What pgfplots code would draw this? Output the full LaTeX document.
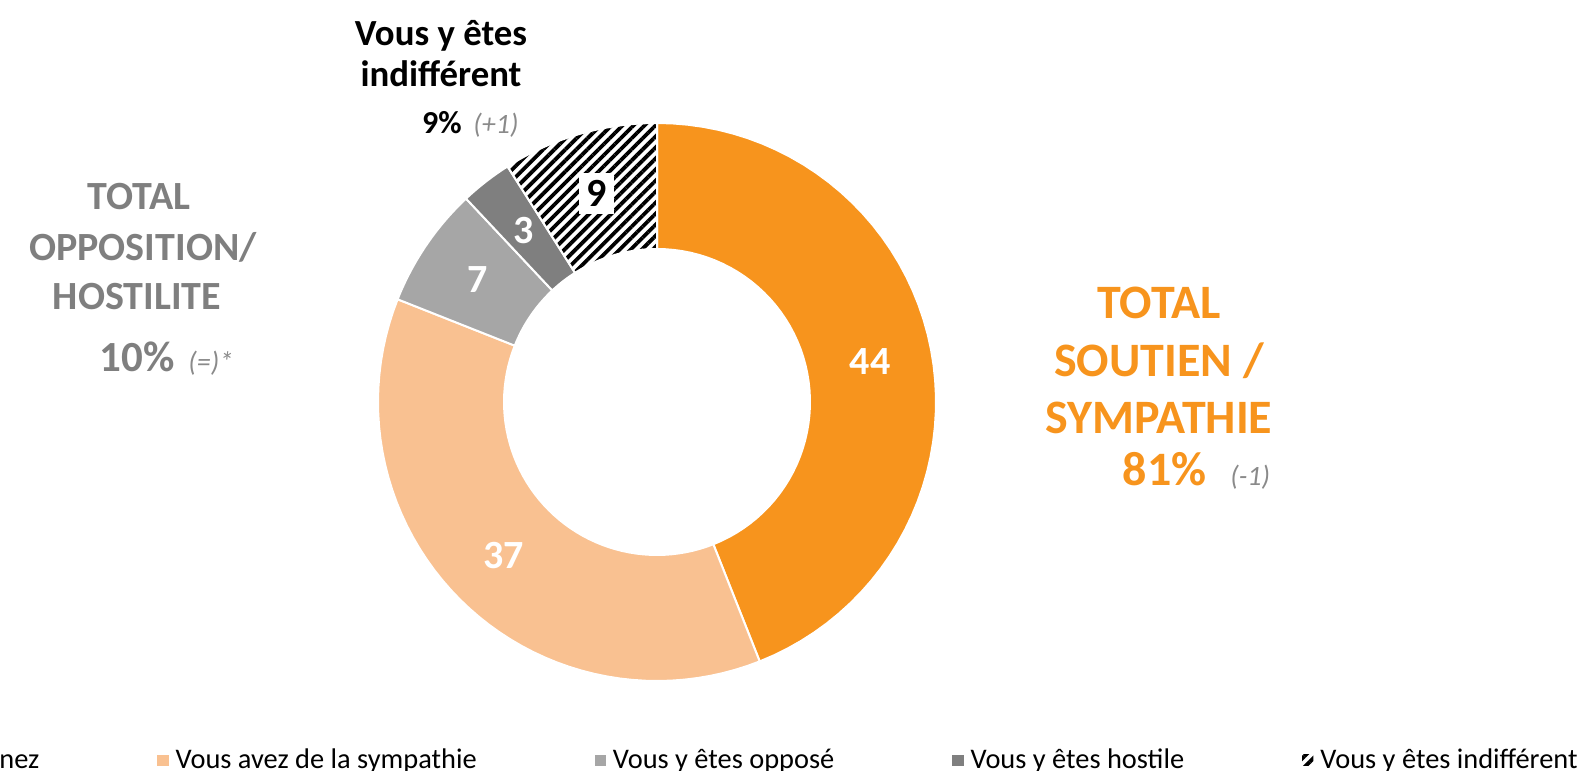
\documentclass[border=0pt]{standalone}
\usepackage{fontspec}
\setmainfont{Carlito}
\usepackage{pgfplots}
\pgfplotsset{compat=1.18}
\usetikzlibrary{patterns.meta}

\definecolor{cSout}{HTML}{F7941D}
\definecolor{cSymp}{HTML}{F9C191}
\definecolor{cOpp}{HTML}{A6A6A6}
\definecolor{cHost}{HTML}{7F7F7F}
\definecolor{cGrayTxt}{HTML}{7F7F7F}
\definecolor{cNote}{HTML}{8A8A8A}

% data (%)
\def\vSout{44}
\def\vSymp{37}
\def\vOpp{7}
\def\vHost{3}
\def\vIndif{9}

% cumulative bounds
\pgfmathsetmacro\cA{0}
\pgfmathsetmacro\cB{\vSout}
\pgfmathsetmacro\cC{\cB+\vSymp}
\pgfmathsetmacro\cD{\cC+\vOpp}
\pgfmathsetmacro\cE{\cD+\vHost}
\pgfmathsetmacro\cF{\cE+\vIndif}

% donut geometry (axis units = pixels)
\def\cx{657}
\def\cy{368}
\def\Ro{279}
\def\Ri{153}
\def\Rl{217}

% ring sector from #2 to #3 (percent), clockwise from the top
\newcommand{\slice}[3]{%
  \addplot[#1, line width=1pt]
    ({\cx+ifthenelse(x<=50,\Ro,\Ri)*cos(90-3.6*(#2+(#3-#2)*min(x,100-x)/50))},
     {\cy+ifthenelse(x<=50,\Ro,\Ri)*sin(90-3.6*(#2+(#3-#2)*min(x,100-x)/50))}) -- cycle;
}
\newcommand{\slicelabel}[4]{%
  \node[#3] at (axis cs:{\cx+\Rl*cos(90-1.8*(#1+#2))},{\cy+\Rl*sin(90-1.8*(#1+#2))}) {#4};
}

\begin{document}
\begin{tikzpicture}
\begin{axis}[
  at={(0,0)}, anchor=south west,
  width=791pt, height=385pt, scale only axis,
  xmin=0, xmax=1582, ymin=0, ymax=770,
  hide axis, clip=false,
  samples at={0,...,50,50.0001,51,52,...,100},
  legend columns=-1,
  legend image code/.code={\fill[#1,draw=none] (0pt,-2.8pt) rectangle (5.6pt,2.8pt);},
  legend style={draw=none, fill=none, inner sep=0pt,
    font=\fontsize{14.2}{17}\selectfont,
    at={(axis cs:1582,-6)}, anchor=south east,
    /tikz/every odd column/.append style={column sep=1.5pt},
    /tikz/every even column/.append style={column sep=57pt}},
]
\slice{fill=cSout, draw=white}{\cA}{\cB}
\addlegendentry{Vous le soutenez}
\slice{fill=cSymp, draw=white}{\cB}{\cC}
\addlegendentry{Vous avez de la sympathie}
\slice{fill=cOpp, draw=white}{\cC}{\cD}
\addlegendentry{Vous y êtes opposé}
\slice{fill=cHost, draw=white}{\cD}{\cE}
\addlegendentry{Vous y êtes hostile}
\slice{pattern={Lines[angle=45,distance=3.9pt,line width=1.9pt]}, pattern color=black, draw=white}{\cE}{\cF}
\addlegendentry{Vous y êtes indifférent}

% slice labels
\slicelabel{\cA}{\cB}{text=white, font=\fontsize{20}{22}\selectfont\bfseries}{44}
\slicelabel{\cB}{\cC}{text=white, font=\fontsize{20}{22}\selectfont\bfseries}{37}
\slicelabel{\cC}{\cD}{text=white, font=\fontsize{20}{22}\selectfont\bfseries}{7}
\slicelabel{\cD}{\cE}{text=white, font=\fontsize{20}{22}\selectfont\bfseries}{3}
\slicelabel{\cE}{\cF}{text=black, fill=white, inner xsep=3.5pt, inner ysep=3.8pt, font=\fontsize{20}{22}\selectfont\bfseries}{9}

% top annotation
\node[anchor=base, font=\fontsize{18.4}{22}\selectfont\bfseries] at (axis cs:441,724) {Vous y êtes};
\node[anchor=base, font=\fontsize{18.4}{22}\selectfont\bfseries] at (axis cs:441,683) {indifférent};
\node[anchor=base east, inner sep=0pt, font=\fontsize{16}{19}\selectfont\bfseries] at (axis cs:462,636) {9\%};
\node[anchor=base west, inner sep=0pt, text=cNote, font=\fontsize{14}{17}\selectfont\itshape] at (axis cs:473,636) {(+1)};

% left annotation
\node[anchor=base, text=cGrayTxt, font=\fontsize{20}{24}\selectfont\bfseries] at (axis cs:139,560) {TOTAL};
\node[anchor=base, text=cGrayTxt, font=\fontsize{20}{24}\selectfont\bfseries] at (axis cs:143,509) {OPPOSITION/};
\node[anchor=base, text=cGrayTxt, font=\fontsize{20}{24}\selectfont\bfseries] at (axis cs:137,460) {HOSTILITE};
\node[anchor=base east, inner sep=0pt, text=cGrayTxt, font=\fontsize{21.5}{25}\selectfont\bfseries] at (axis cs:175,398) {10\%};
\node[anchor=base west, inner sep=0pt, text=cNote, font=\fontsize{14}{17}\selectfont\itshape] at (axis cs:188,398) {(=)*};

% right annotation
\node[anchor=base, text=cSout, font=\fontsize{24}{28}\selectfont\bfseries] at (axis cs:1159,451) {TOTAL};
\node[anchor=base, text=cSout, font=\fontsize{24}{28}\selectfont\bfseries] at (axis cs:1159,393) {SOUTIEN /};
\node[anchor=base, text=cSout, font=\fontsize{24}{28}\selectfont\bfseries] at (axis cs:1159,336) {SYMPATHIE};
\node[anchor=base east, inner sep=0pt, text=cSout, font=\fontsize{24}{28}\selectfont\bfseries] at (axis cs:1207,284) {81\%};
\node[anchor=base west, inner sep=0pt, text=cNote, font=\fontsize{14}{17}\selectfont\itshape] at (axis cs:1230,284) {(-1)};
\end{axis}
\pgfresetboundingbox
\path (0,0) rectangle (791pt,385pt);
\end{tikzpicture}
\end{document}
